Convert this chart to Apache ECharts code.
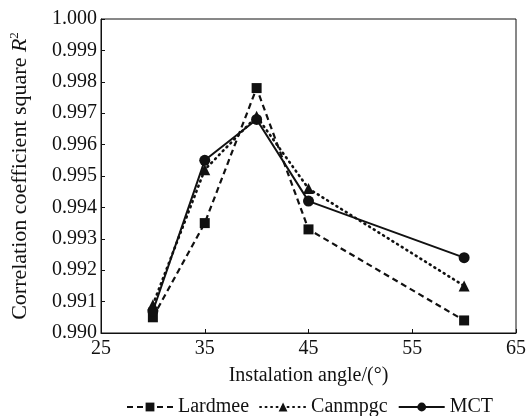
<!DOCTYPE html>
<html>
<head>
<meta charset="utf-8">
<script src="https://cdn.jsdelivr.net/npm/echarts@6/dist/echarts.min.js"></script>
<style>
html,body{margin:0;padding:0;background:#fff;}
#chart{width:530px;height:416px;}
</style>
</head>
<body>
<div id="chart"></div>
<script>
var angles = [30, 35, 40, 45, 60];
var lardmee = [0.9905, 0.9935, 0.9978, 0.9933, 0.9904];
var canmpgc = [0.9909, 0.9952, 0.9969, 0.9946, 0.9915];
var mct = [0.9907, 0.9955, 0.9968, 0.9942, 0.9924];
var seriesNames = ['Lardmee', 'Canmpgc', 'MCT'];

var font = 'Liberation Serif';
var ink = '#111';

function pairs(ys){
	var out = [];
	for(var i=0;i<angles.length;i++){
		out.push([angles[i], ys[i]]);
	}
	return out;
}

function makeSeries(name, ys, symbol, size, type, width, cap){
	return {
		name: name,
		type: 'line',
		data: pairs(ys),
		symbol: symbol,
		symbolSize: size,
		showSymbol: true,
		itemStyle: { color: ink },
		lineStyle: { color: ink, width: width, type: type, cap: cap },
		emphasis: { disabled: true },
		animation: false
	};
}

var chart = echarts.init(document.getElementById('chart'));

chart.setOption({
	backgroundColor: '#fff',
	textStyle: { fontFamily: font, color: ink },
	grid: { left: 101, right: 14, top: 19, bottom: 83, show: true, borderColor: ink, borderWidth: 1 },
	xAxis: {
		type: 'value',
		min: 25, max: 65, interval: 10,
		name: 'Instalation angle/(°)',
		nameLocation: 'middle',
		nameGap: 33,
		nameTextStyle: { fontFamily: font, fontSize: 20, color: ink },
		axisLine: { lineStyle: { color: ink, width: 1 } },
		axisTick: { inside: true, length: 4, lineStyle: { color: ink } },
		axisLabel: { fontFamily: font, fontSize: 20, color: ink, margin: 6 },
		splitLine: { show: false }
	},
	yAxis: {
		type: 'value',
		min: 0.990, max: 1.000, interval: 0.001,
		name: '{a|Correlation coefficient square }{i|R}{s|2}',
		nameLocation: 'middle',
		nameGap: 69,
		nameTextStyle: {
			rich: {
				a: { fontFamily: font, fontSize: 22, color: ink },
				i: { fontFamily: font, fontSize: 22, fontStyle: 'italic', color: ink },
				s: { fontFamily: font, fontSize: 13, color: ink, verticalAlign: 'top', padding: [0,0,11,0] }
			}
		},
		axisLine: { show: true, lineStyle: { color: ink, width: 1 } },
		axisTick: { show: true, inside: true, length: 4, lineStyle: { color: ink } },
		axisLabel: {
			fontFamily: font, fontSize: 20, color: ink, margin: 4,
			formatter: function(v){ return v.toFixed(3); }
		},
		splitLine: { show: false }
	},
	legend: {
		data: seriesNames,
		top: 392,
		left: 121,
		itemWidth: 46,
		itemHeight: 11,
		itemGap: 10,
		textStyle: { fontFamily: font, fontSize: 20, color: ink }
	},
	series: [
		makeSeries(seriesNames[0], lardmee, 'rect', 10, [6, 4], 2.2, 'butt'),
		makeSeries(seriesNames[1], canmpgc, 'triangle', 11, [1, 4.5], 2.6, 'round'),
		makeSeries(seriesNames[2], mct, 'circle', 11, 'solid', 2, 'butt')
	]
});
</script>
</body>
</html>
